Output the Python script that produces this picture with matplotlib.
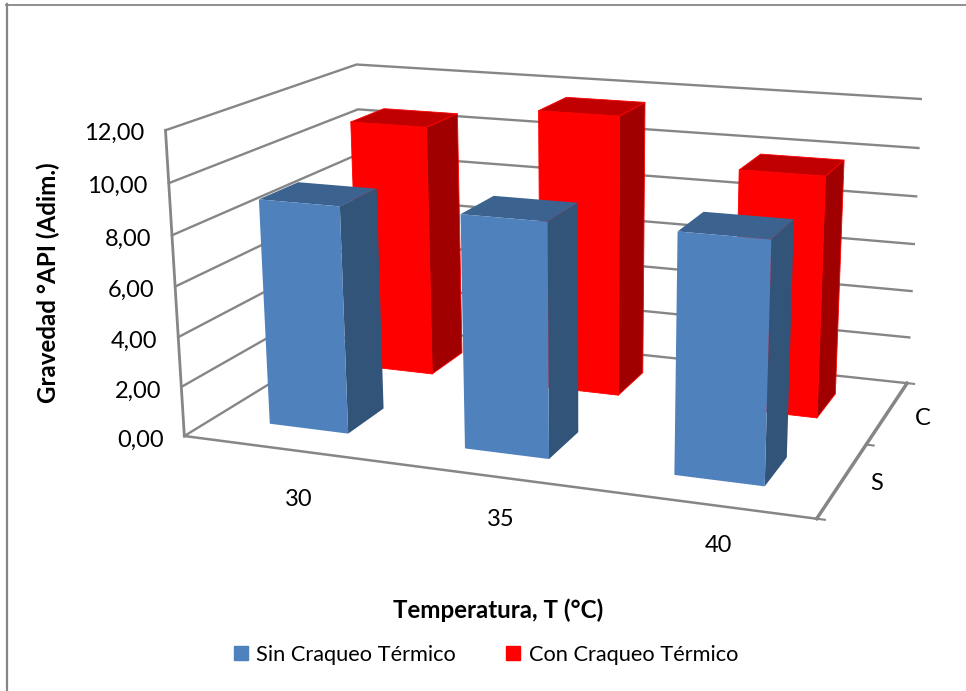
#!/usr/bin/env python3
"""Barras 3D: gravedad API vs temperatura, con y sin craqueo termico."""

import matplotlib

matplotlib.use("Agg")
import matplotlib.pyplot as plt
import numpy as np
from matplotlib.lines import Line2D
from matplotlib.patches import Patch

temperaturas = ["30", "35", "40"]
series = ["S", "C"]
sin_craqueo = [9.05, 9.15, 9.2]
con_craqueo = [10.6, 11.6, 9.8]
z_ticks = [0, 2, 4, 6, 8, 10, 12]
z_labels = ["0,00", "2,00", "4,00", "6,00", "8,00", "10,00", "12,00"]

W, H = 966, 691
GRID = "#868686"
# caras: abajo, arriba, frente, fondo, izquierda, derecha
NONE = (0, 0, 0, 0)
AZUL = [NONE, "#3C6290", "#4F81BD", NONE, NONE, "#335479"]
ROJO = [NONE, "#C00000", "#FF0000", NONE, NONE, "#A00000"]
BORDE_ROJO = [NONE, "#FF0000", "#FF0000", NONE, NONE, "#FF0000"]

# calibracion de la camara: esquinas de la caja (x, y, z) -> pixel
CALIB = [
    ((0, 0, 0), (181, 438)),
    ((0, 0, 12), (167, 130)),
    ((0, 0, 10), (170.7, 182.7)),
    ((0, 2, 12), (354, 65)),
    ((0, 2, 10), (356.7, 110)),
    ((0, 2, 0), (369, 323)),
    ((3, 0, 0), (816.7, 517.3)),
    ((3, 2, 0), (906, 385)),
    ((3, 2, 12), (921.7, 99.3)),
    ((3, 2, 10), (918.7, 147)),
]


def camera_matrix(calib):
    rows, rhs = [], []
    for (x, y, z), (u, v) in calib:
        rows.append([x, y, z, 1, 0, 0, 0, 0, -u * x, -u * y, -u * z])
        rows.append([0, 0, 0, 0, x, y, z, 1, -v * x, -v * y, -v * z])
        rhs += [u, v]
    p = np.linalg.lstsq(np.array(rows, float), np.array(rhs, float), rcond=None)[0]
    return np.array(
        [
            [p[0], p[1], p[2], p[3]],
            [p[4], p[5], p[6], p[7]],
            [0, 0, 0, -1],
            [p[8], p[9], p[10], 1],
        ]
    )


plt.rcParams["font.family"] = ["Lato", "DejaVu Sans"]

fig = plt.figure(figsize=(W / 100, H / 100), dpi=100)
# el marco del grafico solo asoma arriba y a la izquierda
fig.add_artist(Line2D([7 / W, 7 / W], [0, 1 - 4 / H], color=GRID, lw=1.6))
fig.add_artist(Line2D([6 / W, 1], [1 - 5 / H, 1 - 5 / H], color=GRID, lw=1.3))

# eje cuadrado mas grande que la figura; el 2D del eje queda en pixeles
pad = (W - H) / 2
ax = fig.add_axes([0, -pad / H, 1, W / H], projection="3d")
ax.set_axis_off()
ax.patch.set_alpha(0)
ax.computed_zorder = False
ax.set_proj_type("ortho")  # sin esto Line3D recorta todo fuera de [-1, 1]
M = camera_matrix(CALIB)
ax.get_proj = lambda: M
ax.viewLim.intervalx = (0, W)
ax.viewLim.intervaly = (H + pad, -pad)


def etiqueta(x, y, z, s, **kw):
    v = M @ np.array([x, y, z, 1.0])
    fig.text(v[0] / v[3] / W, 1 - v[1] / v[3] / H, s, va="center", fontsize=17, **kw)


# paredes y suelo
for z in z_ticks:
    ax.plot([0, 0, 3], [0, 2, 2], [z, z, z], color=GRID, lw=1.7, zorder=1)
ax.plot([0, 0], [0, 0], [0, 12], color=GRID, lw=2.0, zorder=1)
ax.plot([0, 3], [0, 0], [0, 0], color=GRID, lw=1.8, zorder=1)
ax.plot([3, 3], [0, 2], [0, 0], color=GRID, lw=2.5, zorder=1)
for y in [0, 1, 2]:
    ax.plot([3, 3.035], [y, y], [0, 0], color=GRID, lw=1.5, zorder=1)

ancho = 0.41
fondo = 0.4
for i in range(len(temperaturas)):
    ax.bar3d(i + 0.495 - ancho / 2, 1.5 - fondo / 2, 0, ancho, fondo, con_craqueo[i],
             color=ROJO, edgecolor=BORDE_ROJO, linewidth=0.6, shade=False, zorder=2 + i)
for i in range(len(temperaturas)):
    ax.bar3d(i + 0.495 - ancho / 2, 0.5 - fondo / 2, 0, ancho, fondo, sin_craqueo[i],
             color=AZUL, edgecolor="none", linewidth=0, shade=False, zorder=6 + i)

# textos de los ejes
for z, lab in zip(z_ticks, z_labels):
    etiqueta(-0.11, 0, z * 1.01 - 0.3, lab, ha="right")
for i, (lab, dz) in enumerate(zip(temperaturas, [-1.97, -1.64, -1.52])):
    etiqueta(i + 0.58, 0, dz, lab, ha="center")
for j, (lab, dx) in enumerate(zip(series, [3.15, 3.17])):
    etiqueta(dx, j + 0.5, -0.1 + 0.13 * (1 - j), lab, ha="center")

fig.text(48 / W, 1 - 283 / H, "Gravedad °API (Adim.)", rotation=90, ha="center", va="center",
         fontsize=17.4, fontweight="bold")
fig.text(498 / W, 1 - 610 / H, "Temperatura, T (°C)", ha="center", va="center",
         fontsize=17.4, fontweight="bold")

handles = [Patch(color="#4F81BD"), Patch(color="#FF0000")]
fig.legend(
    handles, ["Sin Craqueo Térmico", "Con Craqueo Térmico"], ncol=2, frameon=False,
    loc="center", bbox_to_anchor=(486 / W, 1 - 655 / H), fontsize=15.7,
    handlelength=0.62, handleheight=0.62, handletextpad=0.4, columnspacing=2.3,
)

fig.savefig("out.png", dpi=100)
